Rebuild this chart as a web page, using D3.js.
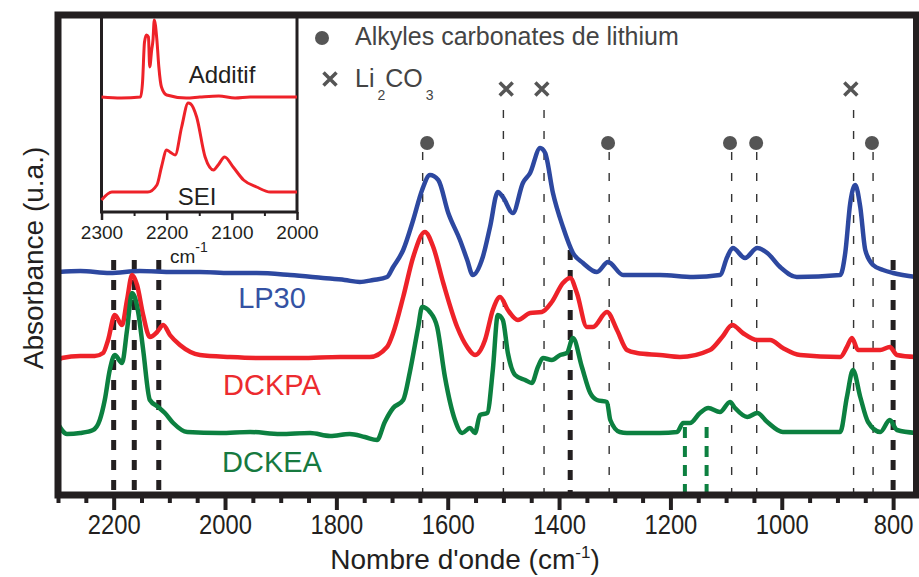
<!DOCTYPE html>
<html><head><meta charset="utf-8">
<script src="https://cdn.jsdelivr.net/npm/d3@7"></script>
<style>body{margin:0;background:#fff}svg{display:block}</style>
</head><body><svg id="c" width="919" height="577"></svg>
<script>
// ---- data: [wavenumber (cm-1), absorbance (a.u., offset)] ----
const lp30 = [[2300,2.23],[2260,2.24],[2207,2.22],[2153,2.24],[2093,2.23],[2045,2.23],[1991,2.22],[1943,2.22],[1883,2.20],[1824,2.17],[1785,2.15],[1758,2.13],[1734,2.15],[1709,2.18],[1698,2.28],[1680,2.45],[1662,2.75],[1646,3.05],[1632,3.20],[1617,3.15],[1599,2.82],[1578,2.55],[1565,2.35],[1555,2.20],[1537,2.38],[1524,2.68],[1510,3.03],[1501,2.98],[1483,2.82],[1465,3.12],[1452,3.22],[1434,3.47],[1425,3.42],[1411,3.02],[1393,2.68],[1375,2.42],[1357,2.32],[1332,2.23],[1312,2.33],[1285,2.20],[1219,2.20],[1159,2.18],[1111,2.20],[1098,2.38],[1088,2.47],[1066,2.37],[1044,2.47],[1026,2.42],[1003,2.28],[973,2.18],[895,2.20],[886,2.42],[877,2.92],[868,3.10],[859,2.88],[850,2.45],[836,2.30],[818,2.25],[800,2.22],[759,2.18]];
const dckpa = [[2300,1.35],[2293,1.37],[2260,1.39],[2234,1.39],[2219,1.42],[2210,1.55],[2198,1.80],[2185,1.70],[2176,1.95],[2167,2.20],[2158,2.10],[2147,1.80],[2135,1.58],[2122,1.63],[2111,1.70],[2099,1.60],[2081,1.50],[2045,1.40],[1991,1.38],[1937,1.37],[1865,1.37],[1793,1.38],[1740,1.38],[1709,1.48],[1698,1.62],[1680,1.98],[1662,2.38],[1641,2.63],[1626,2.48],[1608,2.12],[1583,1.68],[1565,1.48],[1551,1.40],[1533,1.55],[1519,1.85],[1506,1.98],[1492,1.85],[1474,1.75],[1452,1.82],[1431,1.83],[1413,1.93],[1393,2.12],[1380,2.17],[1368,2.02],[1350,1.68],[1339,1.68],[1314,1.83],[1296,1.65],[1278,1.45],[1260,1.42],[1219,1.40],[1183,1.38],[1129,1.45],[1107,1.58],[1089,1.70],[1070,1.62],[1044,1.55],[1021,1.55],[998,1.47],[967,1.40],[895,1.38],[883,1.48],[874,1.57],[863,1.45],[847,1.45],[823,1.45],[806,1.48],[793,1.40],[759,1.38]];
const dckea = [[2300,0.71],[2284,0.61],[2260,0.62],[2237,0.65],[2225,0.75],[2216,0.95],[2207,1.25],[2198,1.40],[2185,1.32],[2176,1.65],[2167,2.02],[2156,1.83],[2147,1.45],[2135,0.95],[2120,0.88],[2108,0.82],[2093,0.72],[2068,0.63],[2009,0.62],[1955,0.63],[1901,0.61],[1847,0.62],[1811,0.59],[1776,0.61],[1749,0.58],[1727,0.55],[1713,0.73],[1698,0.87],[1680,0.95],[1668,1.23],[1653,1.68],[1646,1.88],[1632,1.83],[1619,1.68],[1605,1.18],[1587,0.75],[1574,0.62],[1560,0.67],[1551,0.62],[1542,0.80],[1529,0.82],[1519,1.25],[1510,1.80],[1501,1.75],[1492,1.42],[1479,1.20],[1461,1.15],[1449,1.12],[1438,1.28],[1429,1.37],[1413,1.35],[1398,1.40],[1386,1.42],[1375,1.57],[1359,1.28],[1344,1.02],[1332,0.95],[1314,0.93],[1308,0.75],[1291,0.63],[1278,0.62],[1219,0.62],[1188,0.63],[1177,0.72],[1165,0.72],[1147,0.82],[1132,0.87],[1111,0.83],[1093,0.93],[1084,0.87],[1062,0.78],[1044,0.82],[1026,0.73],[998,0.63],[895,0.63],[883,0.98],[872,1.25],[859,0.98],[845,0.73],[823,0.63],[806,0.75],[793,0.65],[759,0.62]];
const insetAdditif = [[2300,1.15],[2270,1.14],[2240,1.15],[2237,1.30],[2234,1.70],[2231,1.77],[2228,1.75],[2226,1.45],[2223,1.62],[2221,1.72],[2219,1.92],[2215,1.72],[2212,1.45],[2208,1.25],[2200,1.17],[2170,1.14],[2149,1.15],[2120,1.16],[2095,1.14],[2072,1.15],[2040,1.15],[2000,1.15]];
const insetSEI = [[2300,0.12],[2284,0.20],[2250,0.20],[2229,0.20],[2215,0.27],[2208,0.45],[2200,0.62],[2195,0.60],[2187,0.57],[2177,0.85],[2167,1.09],[2163,1.08],[2154,0.95],[2141,0.55],[2128,0.42],[2121,0.47],[2111,0.55],[2098,0.45],[2082,0.32],[2062,0.25],[2041,0.20],[2000,0.20]];
const majorTicks = [2200,2000,1800,1600,1400,1200,1000,800];
const minorTicks = d3.range(2300, 750, -50).filter(v => v % 200 !== 0);
const insetMajor = [2300,2200,2100,2000];
const insetMinor = [2250,2150,2050];
const alkylDots = [1637,1312,1093,1046,838];
const li2co3Crosses = [1495,1431,876];
const alkylLines = [1645,1310,1090,1045,836];
const li2co3Lines = [1500,1427,871];
const boldLines = [2200,2163,2119,1380,800];
const greenLines = [1174,1135];

// ---- drawing ----
const svg = d3.select("#c");
const L=58, R=916.5, T=15, B=495;
const x = d3.scaleLinear().domain([2300,758]).range([L,R]);
const y = d3.scaleLinear().domain([0,4.8]).range([B,T]);
const FONT = "'Liberation Sans', Arial, Helvetica, sans-serif";
const INK = "#231f20";

svg.append("defs").append("clipPath").attr("id","plotclip")
  .append("rect").attr("x",L).attr("y",T).attr("width",R-L).attr("height",B-T);

// annotation dashed lines
const ann = svg.append("g");
alkylLines.forEach(w => ann.append("line").attr("x1",x(w)).attr("x2",x(w)).attr("y1",y(3.43)).attr("y2",B)
  .attr("stroke","#333").attr("stroke-width",1.4).attr("stroke-dasharray","8,13"));
li2co3Lines.forEach(w => ann.append("line").attr("x1",x(w)).attr("x2",x(w)).attr("y1",y(3.85)).attr("y2",B)
  .attr("stroke","#333").attr("stroke-width",1.4).attr("stroke-dasharray","8,13"));

// curves
const line = d3.line().x(d=>x(d[0])).y(d=>y(d[1])).curve(d3.curveMonotoneX);
const curves = svg.append("g").attr("clip-path","url(#plotclip)");
[[lp30,"#2d48a0"],[dckpa,"#ee2229"],[dckea,"#0c8040"]].forEach(([d,c]) =>
  curves.append("path").datum(d).attr("d",line).attr("fill","none").attr("stroke",c)
   .attr("stroke-width",4.5).attr("stroke-linejoin","round").attr("stroke-linecap","round"));

// bold dashed lines
boldLines.forEach(w => ann.append("line").attr("x1",x(w)).attr("x2",x(w)).attr("y1",w===1380?y(2.45):y(2.35)).attr("y2",B)
  .attr("stroke",INK).attr("stroke-width",5).attr("stroke-dasharray","10,10"));
svg.append("g").selectAll("line").data(greenLines).join("line")
  .attr("x1",d=>x(d)).attr("x2",d=>x(d)).attr("y1",y(0.68)).attr("y2",B+4)
  .attr("stroke","#0c8040").attr("stroke-width",4).attr("stroke-dasharray","11,8");

// markers
svg.append("g").selectAll("circle").data(alkylDots).join("circle")
  .attr("cx",d=>x(d)).attr("cy",y(3.52)).attr("r",7).attr("fill","#555");
const crossPath = "M-6.5,-6.5L6.5,6.5M-6.5,6.5L6.5,-6.5";
svg.append("g").selectAll("path").data(li2co3Crosses).join("path")
  .attr("transform",d=>`translate(${x(d)},${y(4.06)})`).attr("d",crossPath)
  .attr("stroke","#555").attr("stroke-width",3.5).attr("fill","none");

// curve labels
const labels = [["LP30",272,308,"#3452a3"],["DCKPA",272,395,"#ec2b2f"],["DCKEA",272,472,"#16793f"]];
labels.forEach(([t,lx,ly,c]) => svg.append("text").attr("x",lx).attr("y",ly).attr("text-anchor","middle")
  .attr("font-family",FONT).attr("font-size",29).attr("fill",c).text(t));

// legend
svg.append("circle").attr("cx",322).attr("cy",38).attr("r",7).attr("fill","#555");
svg.append("text").attr("x",355).attr("y",45).attr("font-family",FONT).attr("font-size",25).attr("fill","#444")
  .text("Alkyles carbonates de lithium");
svg.append("path").attr("transform","translate(330,79)").attr("d",crossPath)
  .attr("stroke","#555").attr("stroke-width",3.5).attr("fill","none");
const lt = svg.append("text").attr("x",355).attr("y",87).attr("font-family",FONT).attr("font-size",25).attr("fill","#444");
lt.append("tspan").text("Li");
lt.append("tspan").attr("font-size",14).attr("dx",3).attr("dy",13).text("2");
lt.append("tspan").attr("dx",0).attr("dy",-13).text("CO");
lt.append("tspan").attr("font-size",14).attr("dx",3).attr("dy",13).text("3");

// inset
const iL=101.5, iR=297, iT=15, iB=212;
const ix = d3.scaleLinear().domain([2300,2000]).range([iL,iR]);
const iy = d3.scaleLinear().domain([0,1.97]).range([iB,iT]);
const inset = svg.append("g");
inset.append("rect").attr("x",iL).attr("y",iT).attr("width",iR-iL).attr("height",iB-iT)
  .attr("fill","none").attr("stroke",INK).attr("stroke-width",3);
const iline = d3.line().x(d=>ix(d[0])).y(d=>iy(d[1])).curve(d3.curveMonotoneX);
[insetAdditif, insetSEI].forEach(d => inset.append("path").datum(d).attr("d",iline)
  .attr("fill","none").attr("stroke","#ee2229").attr("stroke-width",3).attr("stroke-linejoin","round"));
const iax = inset.append("g").attr("transform",`translate(0,${iB})`)
  .call(d3.axisBottom(ix).tickValues(insetMajor).tickSize(8).tickPadding(6).tickFormat(d3.format("d")));
iax.select(".domain").remove();
iax.selectAll("line").attr("stroke",INK).attr("stroke-width",2.5);
iax.selectAll("text").attr("font-family",FONT).attr("font-size",19).attr("fill",INK);
const iaxm = inset.append("g").attr("transform",`translate(0,${iB})`)
  .call(d3.axisBottom(ix).tickValues(insetMinor).tickSize(4).tickFormat(""));
iaxm.select(".domain").remove();
iaxm.selectAll("line").attr("stroke",INK).attr("stroke-width",2);
inset.append("text").attr("x",222).attr("y",83).attr("text-anchor","middle").attr("font-family",FONT)
  .attr("font-size",24).attr("fill",INK).text("Additif");
inset.append("text").attr("x",197).attr("y",205).attr("text-anchor","middle").attr("font-family",FONT)
  .attr("font-size",24).attr("fill",INK).text("SEI");
const cmT = inset.append("text").attr("x",170).attr("y",263).attr("font-family",FONT).attr("font-size",19).attr("fill",INK);
cmT.append("tspan").text("cm");
cmT.append("tspan").attr("font-size",14).attr("dy",-11).text("-1");

// main frame
svg.append("rect").attr("x",L).attr("y",T).attr("width",R-L).attr("height",B-T)
  .attr("fill","none").attr("stroke",INK).attr("stroke-width",7);

// x axis
const ax = svg.append("g").attr("transform",`translate(0,${B})`)
  .call(d3.axisBottom(x).tickValues(majorTicks).tickSize(15).tickFormat(d3.format("d")));
ax.select(".domain").remove();
ax.selectAll("line").attr("stroke",INK).attr("stroke-width",4);
ax.selectAll("text").attr("y",39).attr("dy",null).attr("font-family",FONT).attr("font-size",27).attr("fill",INK)
  .attr("transform","scale(0.88,1)");
const axm = svg.append("g").attr("transform",`translate(0,${B})`)
  .call(d3.axisBottom(x).tickValues(minorTicks).tickSize(8).tickFormat(""));
axm.select(".domain").remove();
axm.selectAll("line").attr("stroke",INK).attr("stroke-width",4);

// axis titles
const xt = svg.append("text").attr("x",465).attr("y",569).attr("text-anchor","middle")
  .attr("font-family",FONT).attr("font-size",28).attr("fill",INK);
xt.append("tspan").text("Nombre d'onde (cm");
xt.append("tspan").attr("font-size",17).attr("dy",-11).text("-1");
xt.append("tspan").attr("dy",11).text(")");
svg.append("text").attr("transform","translate(43,258) rotate(-90)").attr("text-anchor","middle")
  .attr("font-family",FONT).attr("font-size",28).attr("fill",INK).text("Absorbance (u.a.)");
</script></body></html>
